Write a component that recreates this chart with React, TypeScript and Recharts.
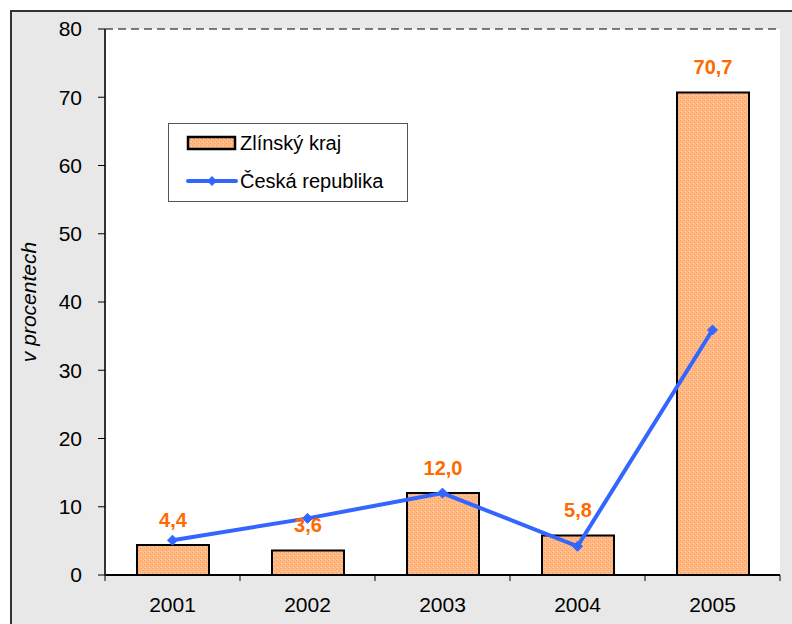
import React from "react";
import {
  ComposedChart,
  Bar,
  Line,
  XAxis,
  YAxis,
  CartesianGrid,
  LabelList,
  Legend,
} from "recharts";

const years = ["2001", "2002", "2003", "2004", "2005"];
const zlinskyKraj = [4.4, 3.6, 12.0, 5.8, 70.7];
const ceskaRepublika = [5.1, 8.3, 12.0, 4.2, 35.9];
const yTicks = [0, 10, 20, 30, 40, 50, 60, 70, 80];

const data = years.map((year, i) => ({
  year,
  zlin: zlinskyKraj[i],
  cr: ceskaRepublika[i],
}));

const W = 792;
const H = 624;
const M = { top: 29, right: 12, bottom: 19, left: 0 };
const Y_AXIS_W = 105;
const PLOT_W = W - M.left - M.right - Y_AXIS_W;
const HALF_BAND = PLOT_W / years.length / 2;

const FONT = "Arial, 'Liberation Sans', sans-serif";
const ORANGE = "#FF6A00";
const BLUE = "#3366FF";

const fmt = (v: number) => v.toFixed(1).replace(".", ",");

function XTick(props: any) {
  const { x, y, payload, index } = props;
  const last = index === years.length - 1;
  return (
    <g>
      <line x1={x - HALF_BAND} x2={x - HALF_BAND} y1={y} y2={y + 6} stroke="#000" strokeWidth={1} />
      {last && <line x1={x + HALF_BAND} x2={x + HALF_BAND} y1={y} y2={y + 6} stroke="#000" strokeWidth={1} />}
      <text x={x} y={y + 37} textAnchor="middle" fontSize={21} fontFamily={FONT} fill="#000">
        {payload.value}
      </text>
    </g>
  );
}

function Diamond(props: any) {
  const { cx, cy } = props;
  if (cx == null || cy == null) return null;
  const r = 5;
  return (
    <polygon
      points={`${cx},${cy - r} ${cx + r},${cy} ${cx},${cy + r} ${cx - r},${cy}`}
      fill={BLUE}
      stroke={BLUE}
    />
  );
}

function LegendBox() {
  return (
    <div
      style={{
        width: 240,
        height: 79,
        background: "#fff",
        border: "1px solid #555",
        boxSizing: "border-box",
        fontFamily: FONT,
        fontSize: 20,
        color: "#000",
        paddingLeft: 17,
        paddingTop: 0,
      }}
    >
      <div style={{ display: "flex", alignItems: "center", height: 38 }}>
        <svg width={52} height={16} style={{ marginRight: 2 }}>
          <rect x={2} y={2} width={47} height={12} fill="url(#hatch)" stroke="#000" strokeWidth={2.5} />
        </svg>
        <span>Zlínský kraj</span>
      </div>
      <div style={{ display: "flex", alignItems: "center", height: 38 }}>
        <svg width={52} height={16} style={{ marginRight: 2 }}>
          <line x1={2} x2={50} y1={8} y2={8} stroke={BLUE} strokeWidth={4} strokeLinecap="round" />
          <polygon points="26,3 31,8 26,13 21,8" fill={BLUE} />
        </svg>
        <span>Česká republika</span>
      </div>
    </div>
  );
}

export default function App() {
  return (
    <div style={{ position: "absolute", left: 0, top: 0, width: W, height: H, background: "#fff", overflow: "hidden" }}>
      <div
        style={{
          position: "absolute",
          left: 10,
          top: 10,
          width: W,
          height: H,
          background: "#e8e8e8",
          borderLeft: "2px solid #333",
          borderTop: "2px solid #333",
        }}
      />
      <div style={{ position: "absolute", left: 0, top: 0 }}>
        <ComposedChart width={W} height={H} data={data} margin={M}>
          <defs>
            <pattern id="hatch" width={4} height={4} patternUnits="userSpaceOnUse">
              <rect width={4} height={4} fill="#FFB985" />
              <rect x={0} y={0} width={1} height={1} fill="#FF9A55" />
              <rect x={2} y={2} width={1} height={1} fill="#FF9A55" />
              <rect x={1} y={3} width={1} height={1} fill="#FFD0AA" />
            </pattern>
          </defs>
          <CartesianGrid
            vertical={false}
            stroke="#000"
            strokeDasharray="8 5"
            fill="#fff"
          />
          <XAxis
            dataKey="year"
            tick={<XTick />}
            tickLine={false}
            tickSize={0}
            tickMargin={0}
            height={30}
            axisLine={{ stroke: "#000", strokeWidth: 2 }}
            interval={0}
          />
          <YAxis
            yAxisId="l"
            domain={[0, 80]}
            ticks={yTicks}
            width={Y_AXIS_W}
            tickSize={7}
            tickMargin={16}
            tickLine={{ stroke: "#000" }}
            axisLine={{ stroke: "#333", strokeWidth: 2 }}
            tick={{ fontSize: 21, fontFamily: FONT, fill: "#000" }}
            label={{
              content: () => (
                <text
                  x={28}
                  y={302}
                  transform="rotate(-90 28 302)"
                  textAnchor="middle"
                  dominantBaseline="central"
                  fontSize={21}
                  fontStyle="italic"
                  fontFamily={FONT}
                  fill="#000"
                >
                  v procentech
                </text>
              ),
            }}
          />
          <YAxis
            yAxisId="r"
            orientation="right"
            domain={[0, 80]}
            width={0}
            tick={false}
            tickLine={false}
            axisLine={{ stroke: "#333", strokeWidth: 1.5 }}
          />
          <Legend
            layout="vertical"
            align="center"
            verticalAlign="middle"
            wrapperStyle={{ left: 168, top: 123, width: 240, height: 79 }}
            content={() => <LegendBox />}
          />
          <Bar
            yAxisId="l"
            dataKey="zlin"
            name="Zlínský kraj"
            fill="url(#hatch)"
            stroke="#000"
            strokeWidth={2}
            barSize={72}
            isAnimationActive={false}
          >
            <LabelList
              dataKey="zlin"
              position="top"
              offset={18}
              formatter={(v: any) => fmt(Number(v))}
              fill={ORANGE}
              fontSize={20}
              fontWeight="bold"
              fontFamily={FONT}
            />
          </Bar>
          <Line
            yAxisId="l"
            dataKey="cr"
            name="Česká republika"
            stroke={BLUE}
            strokeWidth={4}
            dot={<Diamond />}
            activeDot={false}
            isAnimationActive={false}
          />
        </ComposedChart>
      </div>
    </div>
  );
}
